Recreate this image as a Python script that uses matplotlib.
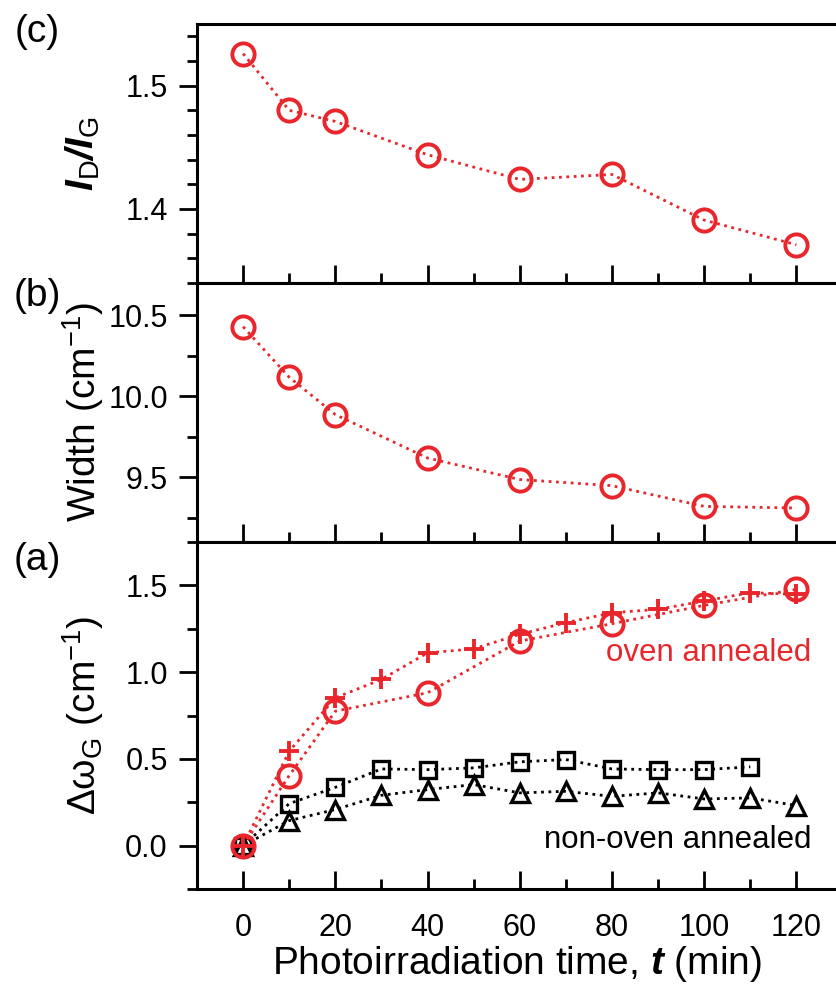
import numpy as np
import matplotlib
matplotlib.use("Agg")
import matplotlib.pyplot as plt
from matplotlib.ticker import MultipleLocator, FormatStrFormatter

plt.rcParams['font.family'] = ['Liberation Sans', 'DejaVu Sans']
plt.rcParams['mathtext.fontset'] = 'custom'
plt.rcParams['mathtext.rm'] = 'Liberation Sans'
plt.rcParams['mathtext.it'] = 'Liberation Sans:italic'
plt.rcParams['mathtext.bf'] = 'Liberation Sans:bold'
try:
    plt.rcParams['mathtext.bfit'] = 'Liberation Sans:bold:italic'
except KeyError:
    pass

RED = '#e8262b'

# (c) intensity ratio
t_c = [0, 10, 20, 40, 60, 80, 100, 120]
id_ig = [1.526, 1.480, 1.471, 1.444, 1.424, 1.428, 1.391, 1.371]

# (b) G band width
t_b = [0, 10, 20, 40, 60, 80, 100, 120]
width = [10.43, 10.118, 9.887, 9.619, 9.486, 9.448, 9.32, 9.31]

# (a) G band shift
t_oven_circ = [0, 10, 20, 40, 60, 80, 100, 120]
oven_circ = [0.0, 0.404, 0.775, 0.881, 1.179, 1.279, 1.385, 1.477]
t_oven_plus = [0, 10, 20, 30, 40, 50, 60, 70, 80, 90, 100, 110, 120]
oven_plus = [0.0, 0.544, 0.852, 0.958, 1.111, 1.134, 1.218, 1.285, 1.342, 1.362, 1.41, 1.458, 1.448]
t_non_sq = [0, 10, 20, 30, 40, 50, 60, 70, 80, 90, 100, 110]
non_sq = [0.0, 0.242, 0.336, 0.442, 0.438, 0.448, 0.483, 0.496, 0.442, 0.438, 0.438, 0.454]
t_non_tri = [0, 10, 20, 30, 40, 50, 60, 70, 80, 90, 100, 110, 120]
non_tri = [0.0, 0.144, 0.208, 0.29, 0.323, 0.352, 0.304, 0.313, 0.284, 0.304, 0.269, 0.275, 0.231]

x_ticks = [0, 20, 40, 60, 80, 100, 120]

W, H = 837, 988
fig = plt.figure(figsize=(W / 100, H / 100), dpi=100)

left = 197 / W
width_ax = 1 - left

def box(top, bottom):
    return [left, 1 - bottom / H, width_ax, (bottom - top) / H]

ax_c = fig.add_axes(box(24, 283))
ax_b = fig.add_axes(box(283, 542))
ax_a = fig.add_axes(box(542, 889))

for ax in (ax_c, ax_b, ax_a):
    ax.set_xlim(-10, 128.8)
    ax.spines['right'].set_visible(False)
    for s in ('left', 'top', 'bottom'):
        ax.spines[s].set_linewidth(2.2)
    ax.xaxis.set_major_locator(MultipleLocator(20))
    ax.xaxis.set_minor_locator(MultipleLocator(10))
    ax.tick_params(axis='x', which='both', direction='in', top=False, width=2.0, pad=17, labelsize=22)
    ax.tick_params(axis='x', which='major', length=13)
    ax.tick_params(axis='x', which='minor', length=7)
    ax.tick_params(axis='y', which='both', direction='out', right=False, width=2.0, pad=8, labelsize=22)
    ax.tick_params(axis='y', which='major', length=13)
    ax.tick_params(axis='y', which='minor', length=7)

ax_c.tick_params(axis='x', labelbottom=False)
ax_b.tick_params(axis='x', labelbottom=False)

mk = dict(mfc='none', mew=2.8)

# (c)
ax_c.plot(t_c, id_ig, ls=':', lw=2, color=RED, marker='o', ms=16, mec=RED, **mk)
ax_c.set_ylim(1.34, 1.55)
ax_c.yaxis.set_major_locator(MultipleLocator(0.1))
ax_c.yaxis.set_minor_locator(MultipleLocator(0.02))
ax_c.yaxis.set_major_formatter(FormatStrFormatter('%.1f'))
ax_c.set_ylabel(r'$\mathbfit{I}_{\mathrm{D}}\mathbfit{/I}_{\mathrm{G}}$', fontsize=28)

# (b)
ax_b.plot(t_b, width, ls=':', lw=2, color=RED, marker='o', ms=16, mec=RED, **mk)
ax_b.set_ylim(9.1, 10.7)
ax_b.yaxis.set_major_locator(MultipleLocator(0.5))
ax_b.yaxis.set_minor_locator(MultipleLocator(0.25))
ax_b.yaxis.set_major_formatter(FormatStrFormatter('%.1f'))
ax_b.set_ylabel(r'Width (cm$^{\mathrm{-1}}$)', fontsize=28)

# (a)
ax_a.plot(t_non_sq, non_sq, ls=':', lw=2, color='black', marker='s', ms=11, mec='black', mfc='none', mew=2.4)
ax_a.plot(t_non_tri, non_tri, ls=':', lw=2, color='black', marker='^', ms=13, mec='black', mfc='none', mew=2.4)
ax_a.plot(t_oven_circ, oven_circ, ls=':', lw=2, color=RED, marker='o', ms=16, mec=RED, **mk)
ax_a.plot(t_oven_plus, oven_plus, ls=':', lw=2, color=RED, marker='+', ms=15, mec=RED, mew=2.8)
ax_a.set_ylim(-0.25, 1.75)
ax_a.yaxis.set_major_locator(MultipleLocator(0.5))
ax_a.yaxis.set_minor_locator(MultipleLocator(0.25))
ax_a.yaxis.set_major_formatter(FormatStrFormatter('%.1f'))
ax_a.set_xticks(x_ticks)
ax_a.set_ylabel(r'$\mathrm{Δω}_{\mathrm{G}}$ (cm$^{\mathrm{-1}}$)', fontsize=28)
ax_a.set_xlabel(r'Photoirradiation time, $\mathbfit{t}$ (min)', fontsize=28, labelpad=1)

ax_a.text(123.3, 1.11, 'oven annealed', color=RED, fontsize=22.5, ha='right', va='center')
ax_a.text(123.3, 0.035, 'non-oven annealed', color='black', fontsize=22.5, ha='right', va='center')

for ax in (ax_c, ax_b, ax_a):
    ax.yaxis.label.set_va('center')
    ax.yaxis.set_label_coords(-0.178, 0.5)

fig.text(37 / W, 1 - 32 / H, '(c)', fontsize=28, ha='center', va='center')
fig.text(37 / W, 1 - 296 / H, '(b)', fontsize=28, ha='center', va='center')
fig.text(37 / W, 1 - 560 / H, '(a)', fontsize=28, ha='center', va='center')

fig.savefig('out.png', dpi=100)
